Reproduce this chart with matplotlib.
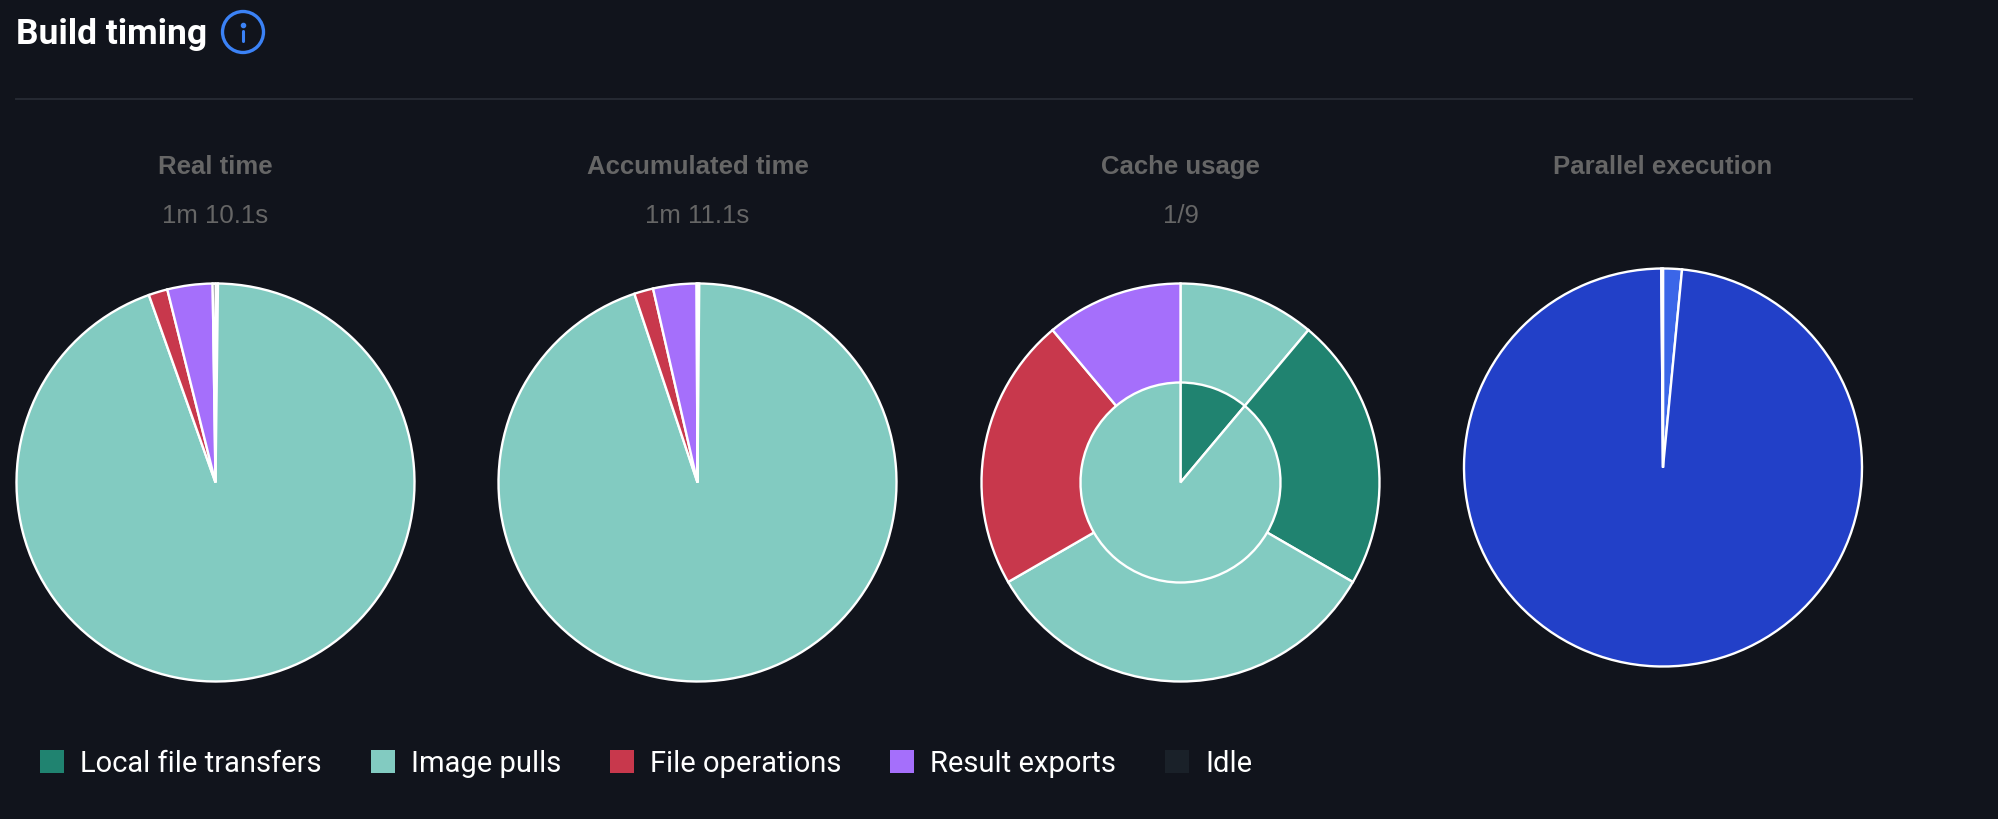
import matplotlib
matplotlib.use("Agg")
import matplotlib.pyplot as plt
from matplotlib.patches import Circle, Patch

W, H = 1998, 820

# legend
categories = ["Local file transfers", "Image pulls", "File operations", "Result exports", "Idle"]
colors = ["#208370", "#82cbc1", "#c8384c", "#a56ffb", "#1a2129"]

# seconds per category
real_time = [0.14, 66.15, 1.08, 2.57, 0.16]
accumulated_time = [0.10, 67.35, 1.10, 2.50, 0.05]

# cache usage, outer ring is per step, inner is cached or not
cache_outer = [1, 2, 3, 2, 1]
cache_outer_colors = ["#82cbc1", "#208370", "#82cbc1", "#c8384c", "#a56ffb"]
cache_inner = [1, 8]
cache_inner_colors = ["#208370", "#82cbc1"]

parallel = [5.5, 354.0, 0.5]
parallel_colors = ["#3b66e8", "#2240c8", "#2240c8"]

titles = ["Real time", "Accumulated time", "Cache usage", "Parallel execution"]
subtitles = ["1m 10.1s", "1m 11.1s", "1/9", ""]

bg = "#11141c"
grey = "#666666"
pie_x = [215.5, 697.5, 1180.5, 1663]
pie_y = [483.5, 483.5, 483.5, 468.5]
R = 200
edge = dict(edgecolor="white", linewidth=1.7)

plt.rcParams["font.family"] = ["Roboto", "DejaVu Sans"]

fig = plt.figure(figsize=(W / 100, H / 100), dpi=100, facecolor=bg)


def pie_axes(cx, cy):
    ax = fig.add_axes([(cx - R) / W, 1 - (cy + R) / H, 2 * R / W, 2 * R / H])
    ax.set_xlim(-1, 1)
    ax.set_ylim(-1, 1)
    ax.set_aspect("equal")
    ax.axis("off")
    return ax


ax = pie_axes(pie_x[0], pie_y[0])
ax.pie(real_time, colors=colors, startangle=90, counterclock=False, radius=0.995, wedgeprops=edge)
ax.set_xlim(-1, 1); ax.set_ylim(-1, 1)

ax = pie_axes(pie_x[1], pie_y[1])
ax.pie(accumulated_time, colors=colors, startangle=90, counterclock=False, radius=0.995, wedgeprops=edge)
ax.set_xlim(-1, 1); ax.set_ylim(-1, 1)

ax = pie_axes(pie_x[2], pie_y[2])
ax.pie(cache_outer, colors=cache_outer_colors, startangle=90, counterclock=False, radius=0.995, wedgeprops=edge)
ax.pie(cache_inner, colors=cache_inner_colors, startangle=90, counterclock=False, radius=0.5, wedgeprops=edge)
ax.set_xlim(-1, 1); ax.set_ylim(-1, 1)

ax = pie_axes(pie_x[3], pie_y[3])
ax.pie(parallel, colors=parallel_colors, startangle=90, counterclock=False, radius=0.995, wedgeprops=edge)
ax.set_xlim(-1, 1); ax.set_ylim(-1, 1)

# overlay in pixel coordinates for header and captions
top = fig.add_axes([0, 0, 1, 1], zorder=-1)
top.set_xlim(0, W)
top.set_ylim(H, 0)
top.axis("off")

top.text(16, 44, "Build timing", color="white", fontsize=25.5, fontweight="bold", va="baseline")
top.plot([16, 1912], [99.5, 99.5], color="#262a33", lw=1.4)

top.add_patch(Circle((243, 33), 20.5, fill=False, edgecolor="#3b82f6", lw=2.4))
top.plot([243, 243], [32, 42], color="#3b82f6", lw=2.2, solid_capstyle="round")
top.plot([243], [25.5], "o", color="#3b82f6", ms=3)

for cx, t, s in zip(pie_x, titles, subtitles):
    top.text(cx, 174, t, color=grey, fontsize=18.5, fontweight="bold", ha="center", va="baseline",
             family=["Liberation Sans", "DejaVu Sans"])
    if s:
        top.text(cx, 223, s, color=grey, fontsize=18.5, ha="center", va="baseline",
                 family=["Liberation Sans", "DejaVu Sans"])

handles = [Patch(facecolor=c, edgecolor="none") for c in colors]
fig.legend(handles, categories, ncol=5, loc="lower left",
           bbox_to_anchor=(40 / W, 1 - 778.5 / H), frameon=False, fontsize=21, labelcolor="white",
           handlelength=0.823, handleheight=0.823, handletextpad=0.549, columnspacing=1.68,
           borderpad=0, borderaxespad=0)

fig.savefig("out.png", dpi=100, facecolor=bg)
